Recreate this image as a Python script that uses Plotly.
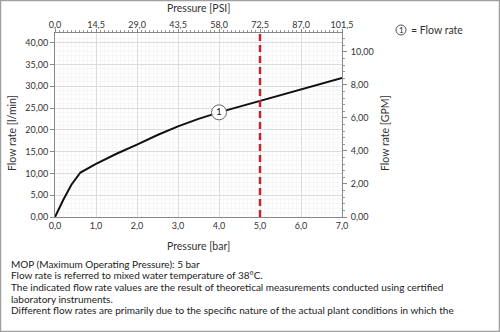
import plotly.graph_objects as go

# ---- data ----
pressure_bar = [0.0, 0.2, 0.4, 0.62, 1.0, 1.5, 2.0, 2.5, 3.0, 3.5, 4.0, 4.5, 5.0, 5.5, 6.0, 6.5, 7.0]
flow_lmin    = [0.0, 3.9, 7.4, 10.2, 12.2, 14.5, 16.6, 18.8, 20.8, 22.5, 24.0, 25.3, 26.7, 28.0, 29.3, 30.6, 31.9]
mop_bar = 5.0
label_bar = [4.0]
label_flow = [24.0]
BAR_TO_PSI = 14.5
LMIN_PER_GPM = 3.785
footnotes = [
    "MOP (Maximum Operating Pressure): 5 bar",
    "Flow rate is referred to mixed water temperature of 38°C.",
    "The indicated flow rate values are the result of theoretical measurements conducted using certified",
    "laboratory instruments.",
    "Different flow rates are primarily due to the specific nature of the actual plant conditions in which the",
]

W, H = 500, 332
L, R, T, B = 55, 342, 33, 217
pw, ph = R - L, B - T
def px(x): return (x - L) / pw
def py(y): return (B - y) / ph

YMAX = 42.2
FONT = "Lato"
TXT = "#333333"

fig = go.Figure()
fig.add_trace(go.Scatter(x=pressure_bar, y=flow_lmin, mode="lines",
                         line=dict(color="#111111", width=2), showlegend=False, hoverinfo="skip"))
# invisible companions to activate the secondary axes
fig.add_trace(go.Scatter(x=[p * BAR_TO_PSI for p in pressure_bar], y=flow_lmin, xaxis="x2", yaxis="y",
                         mode="lines", line=dict(color="rgba(0,0,0,0)"), showlegend=False, hoverinfo="skip"))
fig.add_trace(go.Scatter(x=pressure_bar, y=[f / LMIN_PER_GPM for f in flow_lmin], xaxis="x", yaxis="y2",
                         mode="lines", line=dict(color="rgba(0,0,0,0)"), showlegend=False, hoverinfo="skip"))
# MOP dashed line
fig.add_trace(go.Scatter(x=[mop_bar, mop_bar], y=[0, YMAX], mode="lines",
                         line=dict(color="#c0282d", width=2.5, dash="7px,4px"), showlegend=False, hoverinfo="skip"))
# curve label
fig.add_trace(go.Scatter(x=label_bar, y=label_flow, mode="markers+text", text=["1"],
                         textposition="middle center", textfont=dict(family=FONT, size=10, color="#222"),
                         marker=dict(size=15, color="white", line=dict(color="#666", width=1)),
                         showlegend=False, hoverinfo="skip"))

axcommon = dict(showline=True, linecolor="#888888", linewidth=1, mirror=False, zeroline=False,
                tickfont=dict(family=FONT, size=9, color=TXT), tickcolor="#888888")

fig.update_layout(
    width=W, height=H, margin=dict(l=L, r=W - R, t=T, b=H - B),
    paper_bgcolor="white", plot_bgcolor="white", separators=",.",
    font=dict(family=FONT, color=TXT),
    xaxis=dict(range=[0, 7], tick0=0, dtick=1, tickformat=".1f", showgrid=True, gridcolor="#dcdcdc",
               ticks="", ticklen=4, minor=dict(dtick=0.1, showgrid=True, gridcolor="#f6f6f6"), **axcommon),
    xaxis2=dict(range=[0, 7 * BAR_TO_PSI], overlaying="x", side="top", tick0=0, dtick=BAR_TO_PSI,
                tickformat=".1f", showgrid=False, ticks="outside", ticklen=3, ticklabelstandoff=-3,
                minor=dict(dtick=BAR_TO_PSI / 10, ticks="outside", ticklen=2, tickcolor="#999999", showgrid=False),
                **axcommon),
    yaxis=dict(range=[0, YMAX], tick0=0, dtick=5, tickformat=".2f", showgrid=True, gridcolor="#dcdcdc",
               ticks="outside", ticklen=4, minor=dict(dtick=1, showgrid=True, gridcolor="#f6f6f6"), **axcommon),
    yaxis2=dict(range=[0, YMAX / LMIN_PER_GPM], overlaying="y", side="right", tick0=0, dtick=2,
                tickformat=".2f", showgrid=False, ticks="outside", ticklen=4, ticklabelstandoff=2,
                minor=dict(dtick=0.4, ticks="outside", ticklen=2, tickcolor="#999999", showgrid=False),
                **axcommon),
)
fig.update_yaxes(linecolor="#666666", selector=dict(side="left"))

ann = []
ann.append(dict(text="Pressure [PSI]", x=px(198.5), y=py(7.5), xref="paper", yref="paper",
                showarrow=False, font=dict(family=FONT, size=10.5, color=TXT), xanchor="center", yanchor="middle"))
ann.append(dict(text="Pressure [bar]", x=px(198.5), y=py(245.5), xref="paper", yref="paper",
                showarrow=False, font=dict(family=FONT, size=10.5, color=TXT), xanchor="center", yanchor="middle"))
ann.append(dict(text="Flow rate [l/min]", x=px(12), y=py(133), xref="paper", yref="paper", textangle=-90,
                showarrow=False, font=dict(family=FONT, size=10.5, color=TXT), xanchor="center", yanchor="middle"))
ann.append(dict(text="Flow rate [GPM]", x=px(385), y=py(133), xref="paper", yref="paper", textangle=-90,
                showarrow=False, font=dict(family=FONT, size=10.5, color=TXT), xanchor="center", yanchor="middle"))
ann.append(dict(text="1", x=px(401), y=py(30), xref="paper", yref="paper",
                showarrow=False, font=dict(family=FONT, size=8, color="#222"), xanchor="center", yanchor="middle"))
ann.append(dict(text="= Flow rate", x=px(409), y=py(30), xref="paper", yref="paper",
                showarrow=False, font=dict(family=FONT, size=10.5, color=TXT), xanchor="left", yanchor="middle"))
for i, line in enumerate(footnotes):
    ann.append(dict(text=line, x=px(9), y=py(263.5 + i * 11.7), xref="paper", yref="paper",
                    showarrow=False, font=dict(family=FONT, size=10, color="#222"),
                    xanchor="left", yanchor="middle"))
fig.update_layout(annotations=ann)

fig.add_shape(type="circle", xref="paper", yref="paper", xsizemode="pixel", ysizemode="pixel",
              xanchor=px(401), yanchor=py(30), x0=-5, x1=5, y0=-5, y1=5,
              line=dict(color="#555", width=1), fillcolor="white", layer="below")
fig.add_shape(type="rect", xref="paper", yref="paper", x0=px(0.5), x1=px(499.5), y0=py(331.5), y1=py(0.5),
              line=dict(color="#a0a0a0", width=1.5), fillcolor="rgba(0,0,0,0)")

fig.write_html("out.html")
